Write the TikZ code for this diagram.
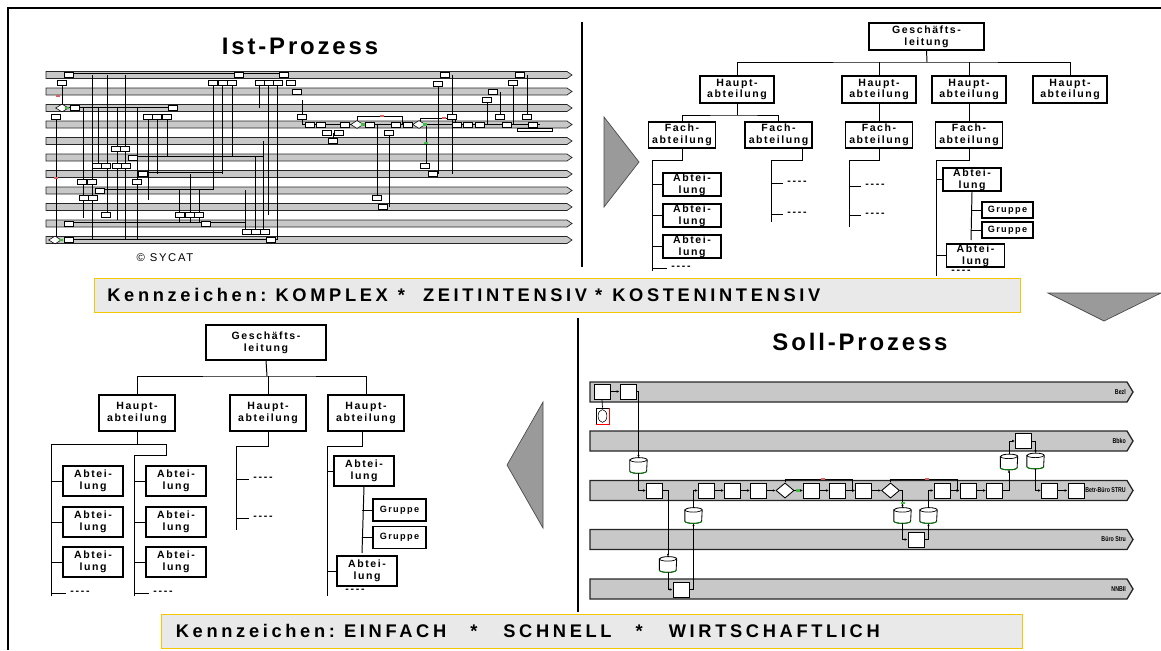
\documentclass[tikz,border=0pt]{standalone}
\usepackage{fontspec}
\setmainfont{Liberation Sans}
\newfontfamily\orgfont[LetterSpace=15]{Liberation Sans}
\newfontfamily\headfont[LetterSpace=12]{Liberation Sans}
\newfontfamily\bannerfont[LetterSpace=20]{Liberation Sans}
\usetikzlibrary{arrows.meta,positioning,shapes.geometric}

\definecolor{lanegray}{HTML}{C8C8C8}
\definecolor{bannerfill}{HTML}{E9E9E9}
\definecolor{bannerline}{HTML}{F6C700}
\definecolor{trigray}{HTML}{9A9A9A}
\definecolor{markred}{HTML}{E06060}
\definecolor{markgreen}{HTML}{40C040}

\begin{document}
\begin{tikzpicture}[x=0.025cm, y=-0.025cm,
  every node/.style={inner sep=0pt},
  orgtext/.style={font=\orgfont\bfseries\fontsize{7.5}{8.5}\selectfont, align=center},
  org/.style={draw, line width=0.8pt, fill=white, orgtext},
  glbox/.style={org, minimum width=2.875cm, minimum height=0.675cm},
  habox/.style={org, minimum width=1.85cm, minimum height=0.675cm},
  fabox/.style={org, minimum width=1.675cm, minimum height=0.65cm},
  abbox/.style={org, minimum width=1.45cm, minimum height=0.575cm},
  grbox/.style={org, minimum width=1.275cm, minimum height=0.4cm, font=\orgfont\bfseries\fontsize{6.5}{7}\selectfont},
  gltwo/.style={org, minimum width=3cm, minimum height=0.875cm},
  hatwo/.style={org, minimum width=1.9cm, minimum height=0.9cm},
  abtwo/.style={org, minimum width=1.5cm, minimum height=0.75cm},
  grtwo/.style={org, minimum width=1.325cm, minimum height=0.55cm, font=\orgfont\bfseries\fontsize{6.5}{7}\selectfont},
  dashtxt/.style={orgtext},
  conn/.style={line width=0.7pt},
  headline/.style={font=\headfont\bfseries\fontsize{17}{20}\selectfont},
  banner/.style={draw=bannerline, fill=bannerfill, line width=0.7pt, minimum height=0.85cm,
    align=left, font=\bannerfont\bfseries\fontsize{13}{15}\selectfont},
  arrowtri/.style={fill=trigray, draw=black!70, line width=0.5pt},
  ilane/.style={fill=lanegray, draw=black!85, line width=0.5pt},
  ibox/.style={draw, fill=white, line width=0.4pt, minimum width=0.22cm, minimum height=0.13cm},
  idia/.style={diamond, draw, fill=white, line width=0.4pt, minimum width=0.32cm, minimum height=0.2cm},
  iline/.style={line width=0.45pt},
  slane/.style={fill=lanegray, draw=black!85, line width=0.9pt},
  sbox/.style={draw, fill=white, line width=0.7pt, minimum width=0.4cm, minimum height=0.375cm},
  scyl/.style={minimum width=0.42cm, minimum height=0.38cm},
  cylbody/.style={fill=white, draw, line width=0.6pt},
  sdia/.style={diamond, draw, fill=white, line width=0.6pt, minimum width=0.45cm, minimum height=0.38cm},
  flow/.style={line width=0.5pt, -{Latex[length=2pt,width=1.8pt]}},
  lanelbl/.style={font=\bfseries\fontsize{5}{5}\selectfont, anchor=east, xscale=0.75},
  marker/.style={minimum width=0.1cm, minimum height=0.07cm},
]
\useasboundingbox (0,0) rectangle (1161,650);

% frame and dividers
\coordinate (fr1) at (8,650);
\coordinate (fr2) at (8,8);
\coordinate (fr3) at (1161,8);
\draw[line width=0.8pt] (fr1) -- (fr2) -- (fr3);
\coordinate (dv1) at (582,22);
\coordinate (dv2) at (582,267);
\coordinate (dv3) at (578,318);
\coordinate (dv4) at (578,612);
\draw[line width=0.8pt] (dv1) -- (dv2);
\draw[line width=0.8pt] (dv3) -- (dv4);

% ---------------- Ist-Prozess ----------------
\node[headline] (isttitle) at (300,46) {Ist-Prozess};
\foreach \i in {0,...,10}{
  \pgfmathsetmacro{\ly}{75+16.5*\i}
  \draw[ilane] (46,\ly-3.5) -- (567,\ly-3.5) -- (572,\ly) -- (567,\ly+3.5) -- (46,\ly+3.5) -- cycle;
}
% connectors
\foreach \x/\ya/\yb in {56/117/240, 62/83/108, 83/108/218, 92/75/240, 98/108/167, 107/75/215,
    117/108/220, 125/75/240, 137/108/240, 148/117/200, 157/117/174, 167/117/157, 179/190/223,
    190/174/223, 199/190/223, 213/83/190, 222/83/174, 232/83/157, 245/190/232, 255/157/232,
    259/83/108, 263/141/232, 268/83/215, 277/83/240, 302/100/124, 377/124/198, 389/133/207,
    426/124/166, 438/84/174, 452/75/174, 487/100/124, 500/92/117, 513/83/124, 527/75/117,
    333/133/141, 357/116/124, 402/116/124, 420/118/124, 455/118/124}
  \draw[iline] (\x,\ya) -- (\x,\yb);
\foreach \xa/\xb/\y in {69/284/73, 69/173/107, 133/263/156, 143/222/172, 100/213/189,
    69/206/222, 69/277/239, 302/540/124, 357/402/116, 420/455/118, 206/245/222}
  \draw[iline] (\xa,\y) -- (\xb,\y);
% activities
\foreach \x/\y [count=\n] in {69/75, 239/75, 284/75, 445/75, 520/75, 297/91.5, 493/91.5,
    75/108, 173/108, 310/124.5, 321/124.5, 345/124.5, 370/124.5, 396/124.5, 408/124.5,
    457/124.5, 468/124.5, 480/124.5, 507/124.5, 533/124.5, 333/141, 133/157.5, 143/174,
    433/174, 100/190.5, 383/207, 69/223.5, 206/223.5, 271/240,
    62/83, 213/83, 223/83, 232/83, 260/83, 269/83, 278/83, 291/83, 438/84, 513/83,
    487/100, 56/117, 148/117, 157/117, 167/117, 302/117, 452/117, 500/117, 527/117,
    327/133, 339/133, 389/133, 116/149, 125/149, 97/166, 106/166, 117/166, 126/166,
    425/166, 82/182, 92/182, 137/182, 84/198, 93/198, 377/198, 106/215, 180/215,
    190/215, 199/215, 247/232, 256/232, 265/232, 69/240}
  \node[ibox] (ia\n) at (\x,\y) {};
\node[ibox, minimum width=0.875cm, minimum height=0.08cm] (iawide) at (534.5,130) {};
\foreach \x/\y [count=\n] in {62/108, 55/240, 357/124.5, 419/124.5}
  \node[idia] (id\n) at (\x,\y) {};
\foreach \x/\y [count=\n] in {58/96, 56/178, 382/116, 444/118}
  \node[marker, fill=markred] (irm\n) at (\x,\y) {};
\foreach \x/\y [count=\n] in {67/108, 61/240, 426/143, 363/124.5, 425/124.5}
  \node[marker, fill=markgreen] (igm\n) at (\x,\y) {};
\node[font=\orgfont\fontsize{8}{9}\selectfont] (sycat) at (165,258) {\copyright\ SYCAT};

% ---------------- top-right organisation ----------------
\node[glbox] (gl1) at (926.5,36.5) {Geschäfts-\\leitung};
\node[habox] (ha1) at (737,89.5) {Haupt-\\abteilung};
\node[habox] (ha2) at (879,89.5) {Haupt-\\abteilung};
\node[habox] (ha3) at (969,89.5) {Haupt-\\abteilung};
\node[habox] (ha4) at (1070,89.5) {Haupt-\\abteilung};
\node[fabox] (fa1) at (682,135) {Fach-\\abteilung};
\node[fabox] (fa2) at (778.5,135) {Fach-\\abteilung};
\node[fabox] (fa3) at (879,135) {Fach-\\abteilung};
\node[fabox] (fa4) at (969,135) {Fach-\\abteilung};
\node[abbox] (ab1) at (692,184.5) {Abtei-\\lung};
\node[abbox] (ab2) at (692,215.5) {Abtei-\\lung};
\node[abbox] (ab3) at (692,246.5) {Abtei-\\lung};
\node[abbox] (ab4) at (972,179.5) {Abtei-\\lung};
\node[grbox] (gr1) at (1007.5,210) {Gruppe};
\node[grbox] (gr2) at (1007.5,230) {Gruppe};
\node[abbox] (ab5) at (975.5,255.5) {Abtei-\\lung};
\node[dashtxt] (dt1) at (681,268) {-\,-\,-\,-};
\node[dashtxt] (dt2) at (797,183) {-\,-\,-\,-};
\node[dashtxt] (dt3) at (797,214) {-\,-\,-\,-};
\node[dashtxt] (dt4) at (875,186) {-\,-\,-\,-};
\node[dashtxt] (dt5) at (875,215) {-\,-\,-\,-};
\node[dashtxt] (dt6) at (961,272) {-\,-\,-\,-};

\coordinate (busT) at (927,62);
\coordinate (busF) at (737,115);
\draw[conn] (gl1.south) -- (busT);
\draw[conn] (ha1.north) |- (busT) -| (ha4.north);
\draw[conn] (ha2.north) -- (ha2.north |- busT);
\draw[conn] (ha3.north) -- (ha3.north |- busT);
\draw[conn] (ha1.south) -- (busF);
\draw[conn] (fa1.north) |- (busF) -| (fa2.north);
\draw[conn] (ha2.south) -- (fa3.north);
\draw[conn] (ha3.south) -- (fa4.north);

\coordinate (sp1) at (652,160);  \coordinate (sp1e) at (652,271);
\coordinate (sp2) at (771,160);  \coordinate (sp2e) at (771,222);
\coordinate (sp3) at (849,160);  \coordinate (sp3e) at (849,227);
\coordinate (sp4) at (936,160);  \coordinate (sp4e) at (936,276);
\coordinate (gp) at (971,240);
\draw[conn] (fa1.south) |- (sp1) -- (sp1e);
\draw[conn] ([xshift=0.6cm]fa2.south) |- (sp2) -- (sp2e);
\draw[conn] (fa3.south) |- (sp3) -- (sp3e);
\draw[conn] (fa4.south) |- (sp4) -- (sp4e);
\foreach \b in {ab1,ab2,ab3}
  \draw[conn] (sp1 |- \b.west) -- (\b.west);
\foreach \b in {ab4,ab5}
  \draw[conn] (sp4 |- \b.west) -- (\b.west);
\draw[conn] (ab4.south) -- (gp);
\foreach \b in {gr1,gr2}
  \draw[conn] (gp |- \b.west) -- (\b.west);
\draw[conn, shorten >=3pt] (sp1 |- dt1.west) -- (dt1.west);
\draw[conn, shorten >=3pt] (sp2 |- dt2.west) -- (dt2.west);
\draw[conn, shorten >=3pt] (sp2 |- dt3.west) -- (dt3.west);
\draw[conn, shorten >=3pt] (sp3 |- dt4.west) -- (dt4.west);
\draw[conn, shorten >=3pt] (sp3 |- dt5.west) -- (dt5.west);

% ---------------- bottom-left organisation ----------------
\node[gltwo] (gl2) at (266,342.5) {Geschäfts-\\leitung};
\node[hatwo] (ha5) at (137,413) {Haupt-\\abteilung};
\node[hatwo] (ha6) at (268,413) {Haupt-\\abteilung};
\node[hatwo] (ha7) at (366,413) {Haupt-\\abteilung};
\node[abtwo] (a11) at (93,481) {Abtei-\\lung};
\node[abtwo] (a12) at (93,522) {Abtei-\\lung};
\node[abtwo] (a13) at (93,562) {Abtei-\\lung};
\node[abtwo] (a21) at (176,481) {Abtei-\\lung};
\node[abtwo] (a22) at (176,522) {Abtei-\\lung};
\node[abtwo] (a23) at (176,562) {Abtei-\\lung};
\node[abtwo] (a31) at (364,471) {Abtei-\\lung};
\node[grtwo] (gr3) at (399.5,510) {Gruppe};
\node[grtwo] (gr4) at (399.5,537.5) {Gruppe};
\node[abtwo] (a32) at (367,571) {Abtei-\\lung};
\node[dashtxt] (dd1) at (80,593) {-\,-\,-\,-};
\node[dashtxt] (dd2) at (163,593) {-\,-\,-\,-};
\node[dashtxt] (dd3) at (263,479) {-\,-\,-\,-};
\node[dashtxt] (dd4) at (263,518) {-\,-\,-\,-};
\node[dashtxt] (dd5) at (355,591) {-\,-\,-\,-};

\coordinate (busB) at (267,376);
\draw[conn] (gl2.south) -- (busB);
\draw[conn] (ha5.north) |- (busB) -| (ha7.north);
\draw[conn] (ha6.north) -- (ha6.north |- busB);

\coordinate (bl1) at (51,444);   \coordinate (bl1e) at (51,596);
\coordinate (bl2) at (166,444);  \coordinate (bl3) at (166,455);
\coordinate (bl4) at (134,455);  \coordinate (bl4e) at (134,596);
\coordinate (bm) at (236,446);   \coordinate (bme) at (236,530);
\coordinate (br) at (327,446);   \coordinate (bre) at (327,596);
\coordinate (brg) at (362,553);
\draw[conn] (ha5.south) -- (ha5.south |- bl1);
\draw[conn] (bl1e) -- (bl1) -- (bl2) -- (bl3) -- (bl4) -- (bl4e);
\draw[conn] (ha6.south) |- (bm) -- (bme);
\draw[conn] ([xshift=-0.1cm]ha7.south) |- (br) -- (bre);
\foreach \b in {a11,a12,a13}
  \draw[conn] (bl1 |- \b.west) -- (\b.west);
\foreach \b in {a21,a22,a23}
  \draw[conn] (bl4 |- \b.west) -- (\b.west);
\foreach \b in {a31,a32}
  \draw[conn] (br |- \b.west) -- (\b.west);
\draw[conn] (a31.south) -- (brg);
\foreach \b in {gr3,gr4}
  \draw[conn] (brg |- \b.west) -- (\b.west);
\draw[conn, shorten >=3pt] (bl1 |- dd1.west) -- (dd1.west);
\draw[conn, shorten >=3pt] (bl4 |- dd2.west) -- (dd2.west);
\draw[conn, shorten >=3pt] (bm |- dd3.west) -- (dd3.west);
\draw[conn, shorten >=3pt] (bm |- dd4.west) -- (dd4.west);

% ---------------- Soll-Prozess ----------------
\node[headline] (solltitle) at (860,342) {Soll-Prozess};
\foreach \ly/\lname [count=\k] in {392/Bezl, 441/Bbko, 490.5/Betr-Büro STRU, 539.5/Büro Stru, 589/NNBII}{
  \draw[slane] (590,\ly-10) -- (1127,\ly-10) -- (1133,\ly) -- (1127,\ly+10) -- (590,\ly+10) -- cycle;
  \node[lanelbl] (slbl\k) at (1126,\ly) {\lname};
}
\node[sbox] (s1) at (602,391.5) {};
\node[sbox] (s2) at (628,391.5) {};
\node[draw, fill=white, line width=0.5pt, minimum width=0.33cm, minimum height=0.4cm] (s0) at (602.5,416) {};
\node[ellipse, draw, line width=0.4pt, minimum width=0.22cm, minimum height=0.32cm] (s0e) at (s0) {};
\draw[red, line width=0.8pt] (s0.south west) -- (s0.south east) -- (s0.north east);
\node[scyl] (c1) at (638.5,465.5) {};
\node[sbox] (s3) at (654.5,490.5) {};
\node[scyl] (c2) at (668,564.5) {};
\node[sbox] (s4) at (681,589.5) {};
\node[scyl] (c3) at (693.5,515.5) {};
\node[sbox] (s5) at (706.5,490.5) {};
\node[sbox] (s6) at (732.5,490.5) {};
\node[sbox] (s7) at (758.5,490.5) {};
\node[sdia] (d1) at (785,490.5) {};
\node[sbox] (s8) at (811.5,490.5) {};
\node[sbox] (s9) at (837.5,490.5) {};
\node[sbox] (s10) at (863.5,490.5) {};
\node[sdia] (d2) at (890.5,490.5) {};
\node[scyl] (c4) at (902.5,515.5) {};
\node[sbox] (s11) at (916,539.5) {};
\node[scyl] (c5) at (928.5,515.5) {};
\node[sbox] (s12) at (942,490.5) {};
\node[sbox] (s13) at (968,490.5) {};
\node[sbox] (s14) at (994.5,490.5) {};
\node[scyl] (c6) at (1009,462) {};
\node[sbox] (s15) at (1023.5,441) {};
\node[scyl] (c7) at (1035.5,461) {};
\node[sbox] (s16) at (1049.5,490.5) {};
\node[sbox] (s17) at (1076,490.5) {};
% data stores drawn as cans over their nodes
\foreach \c in {c1,c2,c3,c4,c5,c6,c7}{
  \draw[cylbody] ([yshift=-1.6pt]\c.north west) -- ([yshift=1.6pt]\c.south west)
    arc[start angle=180, end angle=360, x radius=0.21cm, y radius=1.6pt]
    -- ([yshift=-1.6pt]\c.north east)
    arc[start angle=0, end angle=180, x radius=0.21cm, y radius=1.6pt] -- cycle;
  \draw[line width=0.5pt] ([yshift=-1.6pt]\c.north west)
    arc[start angle=180, end angle=360, x radius=0.21cm, y radius=1.6pt];
  \draw[green!50!black, line width=0.6pt] ([yshift=1.6pt]\c.south west)
    arc[start angle=180, end angle=360, x radius=0.21cm, y radius=1.6pt];
}
\coordinate (lp1) at (852,479);
\coordinate (lp2) at (957,479);

\draw[flow] (s1) -- (s2);
\draw[line width=0.5pt] (s1.south) -- (s0.north);
\draw[flow] (s2.east) -| (c1.north);
\draw[flow] (c1.south) |- (s3.west);
\draw[flow] (s3.east) -| (c2.north);
\draw[flow] (c2.south) |- (s4.west);
\draw[flow] (s4.east) -| (c3.south);
\draw[flow] (c3.north) |- (s5.west);
\draw[flow] (s5) -- (s6);
\draw[flow] (s6) -- (s7);
\draw[flow] (s7) -- (d1);
\draw[flow] (d1) -- (s8);
\draw[flow] (s8) -- (s9);
\draw[flow] (s9) -- (s10);
\draw[flow] (s10) -- (d2);
\draw[flow] (d1.north) |- (lp1) |- (s10.west);
\draw[flow] (d2.north) |- (lp2) |- (s13.west);
\draw[flow] (d2.east) -| (c4.north);
\draw[flow] (c4.south) |- (s11.west);
\draw[flow] (s11.east) -| (c5.south);
\draw[flow] (c5.north) |- (s12.west);
\draw[flow] (s12) -- (s13);
\draw[flow] (s13) -- (s14);
\draw[flow] (s14.east) -| (c6.south);
\draw[flow] (c6.north) |- (s15.west);
\draw[flow] (s15.east) -| (c7.north);
\draw[flow] (c7.south) |- (s16.west);
\draw[flow] (s16) -- (s17);
\node[marker, fill=markred] (srm1) at (823,479) {};
\node[marker, fill=markred] (srm2) at (927,479) {};
\node[marker, fill=markgreen] (sgm1) at (798,490.5) {};
\node[marker, fill=markgreen] (sgm2) at (902.5,503) {};

% ---------------- banners and arrows ----------------
\node[banner, minimum width=23.125cm, inner xsep=0.3125cm, text width=22.5cm] (ban1) at (557.5,295)
  {Kennzeichen: KOMPLEX\hspace{0.25cm}*\hspace{0.45cm}ZEITINTENSIV\hspace{0.2cm}*\hspace{0.25cm}KOSTENINTENSIV};
\node[banner, minimum width=21.5cm, inner xsep=0.35cm, text width=20.8cm] (ban2) at (592,631)
  {Kennzeichen: EINFACH\hspace{0.6cm}*\hspace{0.65cm}SCHNELL\hspace{0.6cm}*\hspace{0.65cm}WIRTSCHAFTLICH};

\path[arrowtri] (604,117) -- (639,162) -- (604,207) -- cycle;
\path[arrowtri] (543,402) -- (507,465) -- (543,528) -- cycle;
\path[arrowtri] (1048,293) -- (1161,293) -- (1104,321) -- cycle;
\end{tikzpicture}
\end{document}
